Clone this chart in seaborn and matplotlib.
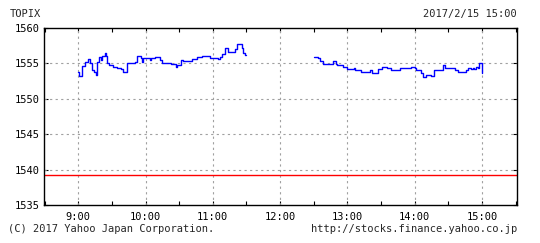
import matplotlib
matplotlib.use("Agg")
import matplotlib.pyplot as plt
import seaborn as sns
import pandas as pd
from matplotlib.ticker import MultipleLocator

# minutes after 9:00
am_minutes = [0, 0.9, 3.6, 5.9, 8.3, 10.4, 12.5, 14.3, 15.7, 16.6, 18.7, 20.5, 21.4, 23.5,
              24.4, 26.1, 27.6, 31.2, 34.2, 37.7, 40.1, 43.7, 50.5, 52.0, 52.6, 55.8, 57.3,
              57.9, 64.4, 65.3, 68.3, 72.8, 74.3, 82.3, 87.0, 88.2, 91.2, 93.6, 101.6, 106.0,
              110.8, 116.7, 117.9, 124.2, 126.2, 128.6, 130.7, 133.1, 139.6, 141.7, 145.6,
              147.0, 148.5, 150.0]
am_values = [1553.8, 1553.25, 1554.7, 1555.2, 1555.6, 1555.0, 1554.1, 1553.8, 1553.4, 1555.2,
             1555.85, 1555.5, 1556.0, 1556.4, 1556.0, 1555.0, 1554.8, 1554.5, 1554.3, 1554.15,
             1553.8, 1555.0, 1555.2, 1555.7, 1556.0, 1555.8, 1555.2, 1555.7, 1555.5, 1555.7,
             1555.85, 1555.5, 1555.0, 1554.85, 1554.5, 1554.75, 1555.5, 1555.35, 1555.55,
             1555.9, 1556.1, 1556.0, 1555.7, 1555.55, 1555.85, 1556.3, 1557.1, 1556.6, 1557.0,
             1557.8, 1557.1, 1556.5, 1556.2, 1556.2]

pm_minutes = [210.1, 213.9, 216.0, 217.8, 227.3, 229.6, 230.8, 236.1, 239.7, 245.6, 246.5,
              252.4, 259.9, 262.2, 267.3, 271.1, 275.3, 279.1, 286.5, 296.9, 299.9, 301.3,
              305.2, 307.3, 310.2, 314.7, 317.6, 319.1, 325.0, 327.4, 336.3, 338.4, 345.8,
              347.3, 350.2, 351.7, 353.2, 354.7, 356.1, 357.6, 360.0]
pm_values = [1555.85, 1555.7, 1555.4, 1554.9, 1555.4, 1554.9, 1554.75, 1554.5, 1554.15,
             1554.3, 1554.05, 1553.8, 1554.05, 1553.7, 1554.15, 1554.5, 1554.3, 1554.05,
             1554.3, 1554.5, 1554.3, 1554.05, 1553.6, 1553.1, 1553.35, 1553.2, 1554.0,
             1554.05, 1554.75, 1554.3, 1554.05, 1553.8, 1554.05, 1554.3, 1554.15, 1554.3,
             1554.2, 1554.5, 1554.3, 1555.0, 1553.7]

prev_close = 1539.2
hour_ticks = [0, 60, 120, 180, 240, 300, 360]
hour_labels = ["9:00", "10:00", "11:00", "12:00", "13:00", "14:00", "15:00"]
y_ticks = [1535, 1540, 1545, 1550, 1555, 1560]

sns.set_theme(style="white")
plt.rcParams["font.family"] = ["DejaVu Sans Mono"]

fig = plt.figure(figsize=(5.4, 2.43), dpi=100)
ax = fig.add_axes([0.0815, 0.156, 0.957 - 0.0815, 0.885 - 0.156])

am = pd.DataFrame({"t": am_minutes, "v": am_values})
pm = pd.DataFrame({"t": pm_minutes, "v": pm_values})

ax.axhline(prev_close, color="#ff0000", lw=1.0, zorder=2)
sns.lineplot(data=am, x="t", y="v", ax=ax, color="#0000ff", lw=1.0,
             drawstyle="steps-post", estimator=None, sort=True, zorder=3)
sns.lineplot(data=pm, x="t", y="v", ax=ax, color="#0000ff", lw=1.0,
             drawstyle="steps-post", estimator=None, sort=True, zorder=3)

ax.set_xlim(-30.5, 391)
ax.set_ylim(1535, 1560)
ax.set_xticks(hour_ticks)
ax.set_xticklabels(hour_labels)
ax.xaxis.set_minor_locator(MultipleLocator(30))
ax.set_yticks(y_ticks)
ax.set_yticklabels([str(v) for v in y_ticks])
ax.set_xlabel("")
ax.set_ylabel("")

for v in y_ticks[1:-1]:
    ax.axhline(v, color="#a0a0a0", lw=0.8, ls=(0, (2, 3)), zorder=1)
for t in hour_ticks:
    ax.axvline(t, color="#a0a0a0", lw=0.8, ls=(0, (2, 3)), zorder=1)

ax.tick_params(axis="both", which="both", direction="in", length=3, width=0.8,
               colors="black", labelsize=7.5, top=True, right=True, bottom=True, left=True,
               pad=3)
ax.tick_params(axis="x", which="major", pad=5)
for s in ax.spines.values():
    s.set_color("black")
    s.set_linewidth(1.0)

fig.text(10 / 540, 1 - 14 / 243, "TOPIX", fontsize=7.5, va="center", ha="left")
fig.text(517 / 540, 1 - 14 / 243, "2017/2/15 15:00", fontsize=7.5, va="center", ha="right")
fig.text(8 / 540, 1 - 229 / 243, "(C) 2017 Yahoo Japan Corporation.", fontsize=7.5,
         va="center", ha="left")
fig.text(517 / 540, 1 - 229 / 243, "http://stocks.finance.yahoo.co.jp", fontsize=7.5,
         va="center", ha="right")

fig.savefig("out.png", dpi=100, facecolor="white")
